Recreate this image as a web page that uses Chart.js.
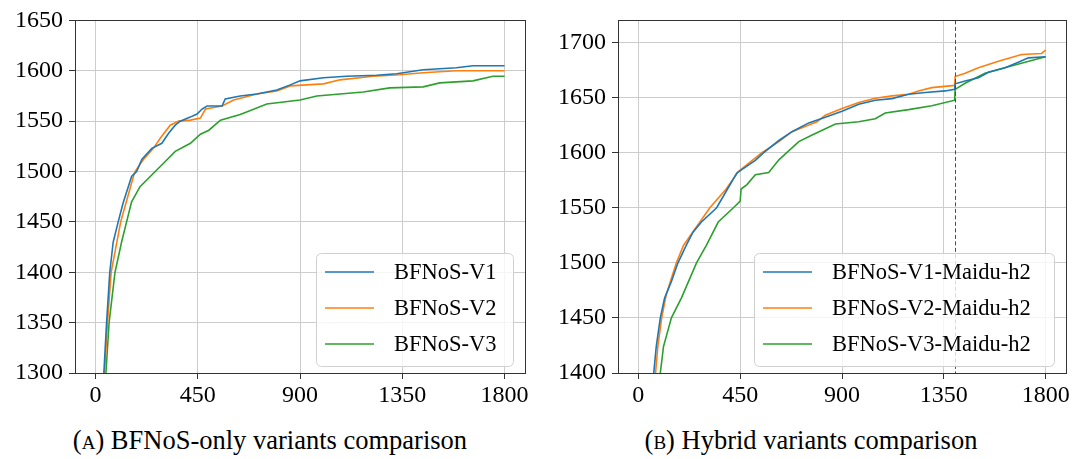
<!DOCTYPE html>
<html>
<head>
<meta charset="utf-8">
<script src="https://cdn.jsdelivr.net/npm/chart.js@4.4.1/dist/chart.umd.min.js"></script>
<style>
  body { margin: 0; background: #fff; }
  #wrap { position: relative; width: 1082px; height: 459px; overflow: hidden; }
  canvas { position: absolute; top: 0; }
  .cap { position: absolute; top: 425px; text-align: center; font-family: "Liberation Serif", serif; font-size: 26.5px; color: #000; }
  .sc { font-variant: small-caps; }
</style>
</head>
<body>
<div id="wrap">
  <canvas id="chartA" width="540" height="420" style="left:0"></canvas>
  <canvas id="chartB" width="542" height="420" style="left:540px"></canvas>
  <div class="cap" style="left:0;width:540px">(<span class="sc">a</span>) BFNoS-only variants comparison</div>
  <div class="cap" style="left:540px;width:542px">(<span class="sc">b</span>) Hybrid variants comparison</div>
</div>
<script>
// eixo x comum
const xTicks = [0, 450, 900, 1350, 1800];
const yTicksA = [1300, 1350, 1400, 1450, 1500, 1550, 1600, 1650];
const yTicksB = [1400, 1450, 1500, 1550, 1600, 1650, 1700];
const switchTime = 1400; // linha vermelha tracejada

// (a) BFNoS-only
const labelsA = ['BFNoS-V1', 'BFNoS-V2', 'BFNoS-V3'];
const v1X = [37, 49, 63, 78, 100, 122, 159, 181, 204, 248, 292, 322, 351, 373, 417, 447, 469, 491, 557, 571, 637, 710, 798, 857, 900, 1003, 1105, 1237, 1325, 1442, 1588, 1661, 1800];
const v1Y = [1300, 1350, 1400, 1430, 1450, 1469, 1495, 1500, 1512, 1523, 1528, 1538, 1546, 1550, 1554, 1557, 1562, 1565, 1565, 1572, 1575, 1577, 1581, 1586, 1590, 1593, 1594.5, 1595.5, 1597, 1601, 1603, 1605, 1605];
const v2X = [40, 53, 69, 111, 167, 174, 211, 255, 285, 329, 366, 418, 462, 484, 557, 608, 710, 798, 857, 1003, 1076, 1222, 1339, 1442, 1588, 1800];
const v2Y = [1300, 1350, 1400, 1450, 1495, 1500, 1512, 1523, 1533, 1546, 1550, 1551, 1553, 1562, 1565, 1571, 1577, 1580, 1585, 1587, 1591, 1594.5, 1596, 1598, 1600, 1600];
const v3X = [46, 60, 86, 115, 137, 159, 196, 263, 307, 351, 418, 462, 499, 550, 637, 754, 900, 974, 1076, 1178, 1295, 1442, 1515, 1661, 1749, 1800];
const v3Y = [1300, 1350, 1400, 1430, 1450, 1470, 1485, 1500, 1510, 1520, 1528, 1537, 1541, 1551, 1556.5, 1567, 1571, 1575, 1577, 1579, 1583, 1584, 1588, 1590, 1594.5, 1594.5];

// (b) Hybrid
const labelsB = ['BFNoS-V1-Maidu-h2', 'BFNoS-V2-Maidu-h2', 'BFNoS-V3-Maidu-h2'];
const h1X = [68, 79, 97, 116, 146, 175, 212, 242, 279, 346, 394, 435, 457, 517, 554, 621, 679, 753, 826, 900, 974, 1047, 1121, 1194, 1268, 1356, 1398, 1400, 1444, 1503, 1547, 1621, 1679, 1724, 1800];
const h1Y = [1400, 1424, 1450, 1468, 1483, 1500, 1516, 1528, 1537, 1550, 1567, 1581.5, 1584.5, 1593, 1600, 1611, 1619, 1627, 1632, 1637.5, 1644, 1647.6, 1649, 1653, 1654.5, 1656, 1657.4, 1662.5, 1665, 1668, 1673, 1677, 1682, 1686, 1687];
const h2X = [76, 86, 103, 123, 168, 200, 272, 316, 388, 443, 546, 621, 679, 753, 790, 826, 900, 974, 1047, 1121, 1194, 1238, 1297, 1398, 1400, 1444, 1503, 1591, 1694, 1782, 1800];
const h2Y = [1400, 1424, 1450, 1471, 1500, 1516, 1537, 1550, 1567, 1583, 1600, 1610, 1619, 1625, 1628, 1634, 1640, 1645.5, 1649.4, 1651.5, 1653, 1656, 1659, 1661, 1669, 1672, 1677, 1683, 1689, 1690, 1693];
const h3X = [97, 111, 146, 190, 257, 301, 353, 420, 450, 454, 480, 517, 576, 621, 709, 768, 871, 974, 1047, 1091, 1194, 1297, 1398, 1400, 1444, 1532, 1635, 1709, 1800];
const h3Y = [1400, 1424, 1450, 1468, 1500, 1516, 1537, 1550, 1556, 1567, 1571, 1580, 1582, 1593.5, 1610, 1616, 1626, 1628, 1630.7, 1636, 1639, 1642.6, 1647.6, 1657.4, 1663, 1672, 1678, 1682, 1687];

const cores = ['#1f77b4', '#ff7f0e', '#2ca02c'];
const serif = 'Liberation Serif';

function pontos(xs, ys) {
    return xs.map((x, i) => ({ x: x, y: ys[i] }));
}

function montarDatasets(labels, series) {
    return series.map((s, i) => ({
        label: labels[i],
        data: pontos(s[0], s[1]),
        borderColor: cores[i],
        borderWidth: 1.6,
        pointRadius: 0,
        fill: false,
        tension: 0
    }));
}

// moldura (4 lados) + legenda dentro do gráfico
const molduraPlugin = {
    id: 'moldura',
    afterDraw(chart, args, opts) {
        const ctx = chart.ctx, a = chart.chartArea;
        ctx.save();

        if (opts.redLine !== undefined) {
            const px = Math.round(chart.scales.x.getPixelForValue(opts.redLine)) + 0.5;
            ctx.strokeStyle = '#ff0000';
            ctx.lineWidth = 1;
            ctx.setLineDash([4, 2.5]);
            ctx.beginPath();
            ctx.moveTo(px, a.top);
            ctx.lineTo(px, a.bottom);
            ctx.stroke();
            ctx.setLineDash([]);
        }

        // legenda
        const w = opts.legendWidth, h = 113;
        const bx = a.right - 12 - w, by = a.bottom - 7 - h;
        ctx.fillStyle = 'rgba(255,255,255,0.8)';
        ctx.strokeStyle = '#d0d0d0';
        ctx.lineWidth = 1;
        ctx.beginPath();
        ctx.roundRect(bx + 0.5, by + 0.5, w, h, 5);
        ctx.fill();
        ctx.stroke();
        ctx.font = '22.5px "Liberation Serif", serif';
        ctx.textBaseline = 'middle';
        chart.data.datasets.forEach((ds, i) => {
            const cy = by + 19 + i * 36;
            ctx.strokeStyle = ds.borderColor;
            ctx.lineWidth = 1.6;
            ctx.beginPath();
            ctx.moveTo(bx + 9, cy);
            ctx.lineTo(bx + 58, cy);
            ctx.stroke();
            ctx.fillStyle = '#000';
            ctx.fillText(ds.label, bx + 78, cy + 1);
        });

        ctx.strokeStyle = '#333';
        ctx.lineWidth = 1;
        ctx.strokeRect(Math.round(a.left) + 0.5, Math.round(a.top) + 0.5, Math.round(a.right - a.left), Math.round(a.bottom - a.top));
        ctx.restore();
    }
};

function criarGrafico(id, datasets, yMin, yMax, yTicks, yWidth, padRight, opts) {
    return new Chart(document.getElementById(id).getContext('2d'), {
        type: 'line',
        data: { datasets: datasets },
        options: {
            responsive: false,
            animation: false,
            devicePixelRatio: 1,
            layout: { padding: { top: 15, right: padRight, left: 0, bottom: 0 } },
            plugins: { legend: { display: false }, tooltip: { enabled: false }, moldura: opts },
            scales: {
                x: {
                    type: 'linear', min: -90, max: 1890,
                    afterBuildTicks: s => { s.ticks = xTicks.map(v => ({ value: v })); },
                    afterFit: s => { s.height = 47; },
                    grid: { color: '#cccccc', lineWidth: 1, tickColor: '#333', tickLength: 6 },
                    border: { color: '#333' },
                    ticks: { color: '#000', font: { family: serif, size: 24 }, padding: 2, maxRotation: 0, callback: v => String(v) }
                },
                y: {
                    min: yMin, max: yMax,
                    afterBuildTicks: s => { s.ticks = yTicks.map(v => ({ value: v })); },
                    afterFit: s => { s.width = yWidth; },
                    grid: { color: '#cccccc', lineWidth: 1, tickColor: '#333', tickLength: 6 },
                    border: { color: '#333' },
                    ticks: { color: '#000', font: { family: serif, size: 24 }, padding: 6, callback: v => String(v) }
                }
            }
        },
        plugins: [molduraPlugin]
    });
}

criarGrafico('chartA',
    montarDatasets(labelsA, [[v1X, v1Y], [v2X, v2Y], [v3X, v3Y]]),
    1300, 1650, yTicksA, 75, 15, { legendWidth: 197 });

criarGrafico('chartB',
    montarDatasets(labelsB, [[h1X, h1Y], [h2X, h2Y], [h3X, h3Y]]),
    1400, 1720, yTicksB, 78, 16, { legendWidth: 300, redLine: switchTime });
</script>
</body>
</html>
